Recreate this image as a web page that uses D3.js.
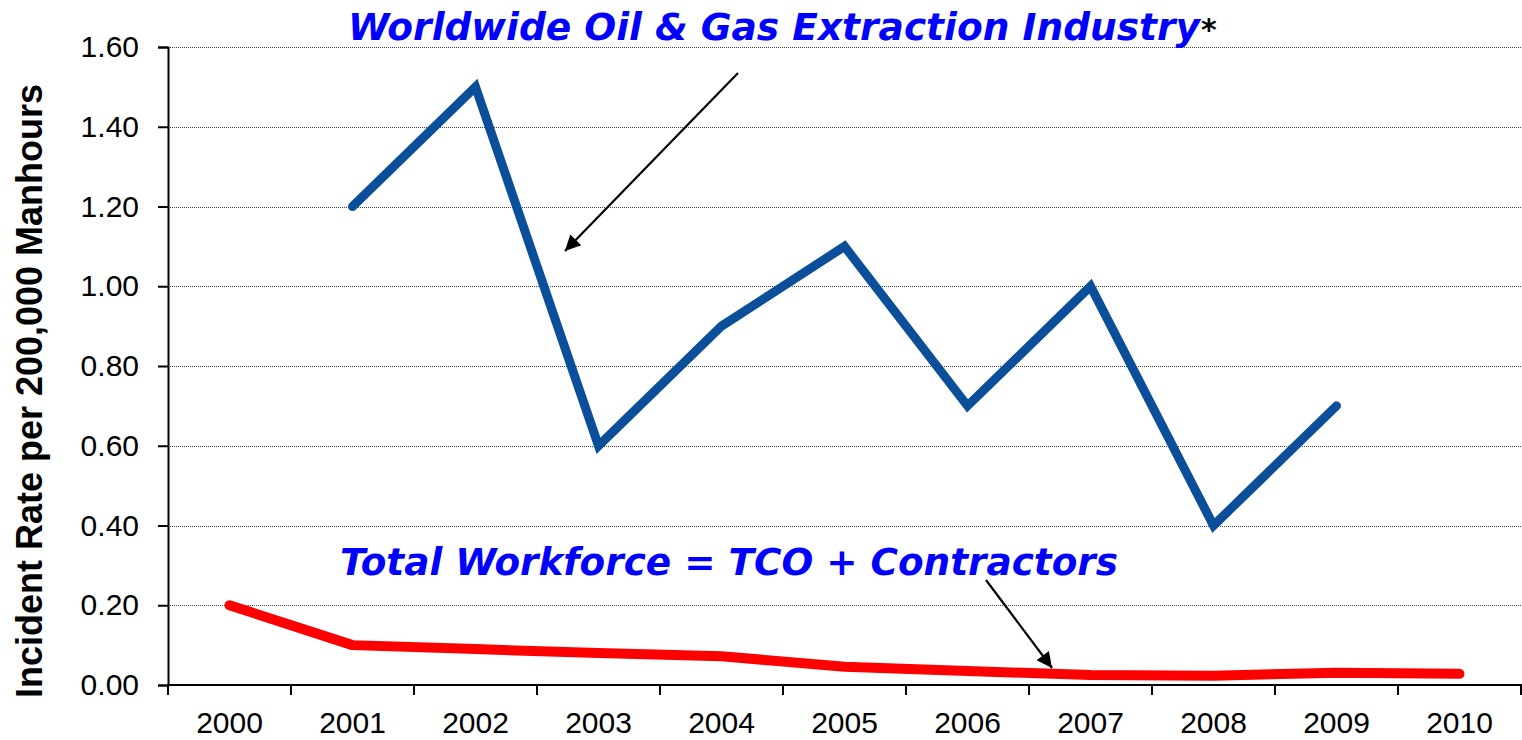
<!DOCTYPE html>
<html>
<head>
<meta charset="utf-8">
<script src="https://cdn.jsdelivr.net/npm/d3@7"></script>
<style>
  html, body { margin: 0; padding: 0; background: #fff; }
  svg { display: block; }
</style>
</head>
<body>
<svg id="chart" width="1522" height="740"></svg>
<script>
// ---- data ----
const years = ["2000","2001","2002","2003","2004","2005","2006","2007","2008","2009","2010"];
const worldwideYears = ["2001","2002","2003","2004","2005","2006","2007","2008","2009"];
const worldwideValues = [1.20, 1.50, 0.60, 0.90, 1.10, 0.70, 1.00, 0.40, 0.70];
const workforceValues = [0.20, 0.10, 0.09, 0.08, 0.072, 0.046, 0.035, 0.025, 0.023, 0.031, 0.028];
const yTickValues = [0, 0.2, 0.4, 0.6, 0.8, 1.0, 1.2, 1.4, 1.6];
const titleTop = "Worldwide Oil & Gas Extraction Industry";
const titleBottom = "Total Workforce = TCO + Contractors";
const yAxisTitle = "Incident Rate per 200,000 Manhours";

// ---- layout ----
const svg = d3.select("#chart");
const plotLeft = 168, plotRight = 1521, plotTop = 47, plotBottom = 685;

const x = d3.scaleBand().domain(years).range([plotLeft, plotRight]).padding(0);
const y = d3.scaleLinear().domain([0, 1.6]).range([plotBottom, plotTop]);
const cx = d => x(d) + x.bandwidth() / 2;

// gridlines
svg.append("g")
  .selectAll("line")
  .data(yTickValues.filter(v => v > 0))
  .join("line")
  .attr("x1", plotLeft).attr("x2", plotRight)
  .attr("y1", d => Math.round(y(d)) + 0.5).attr("y2", d => Math.round(y(d)) + 0.5)
  .attr("stroke", "#444")
  .attr("stroke-width", 1)
  .attr("stroke-dasharray", "1,1");

// y axis
const yAxis = svg.append("g")
  .attr("transform", `translate(${plotLeft},0)`)
  .call(d3.axisLeft(y).tickValues(yTickValues).tickFormat(d3.format(".2f")).tickSize(10).tickPadding(19));
yAxis.select(".domain").attr("stroke", "#000").attr("stroke-width", 2);
yAxis.selectAll(".tick line").attr("stroke", "#000").attr("stroke-width", 2);
yAxis.selectAll("text")
  .attr("font-family", "Liberation Sans, Arial, sans-serif")
  .attr("font-size", 30).attr("fill", "#000");

// x axis: labels centered in bands, ticks on band edges
const xAxis = svg.append("g")
  .attr("transform", `translate(0,${plotBottom})`)
  .call(d3.axisBottom(x).tickSize(0).tickPadding(27));
xAxis.select(".domain").attr("stroke", "#000").attr("stroke-width", 2).attr("d", `M${plotLeft},0H${plotRight + 1}`);
xAxis.selectAll("text")
  .attr("font-family", "Liberation Sans, Arial, sans-serif")
  .attr("font-size", 30).attr("fill", "#000");
const edges = years.map(d => x(d)).concat([plotRight]);
xAxis.selectAll(".edge")
  .data(edges)
  .join("line")
  .attr("class", "edge")
  .attr("x1", d => d).attr("x2", d => d)
  .attr("y1", 0).attr("y2", 10)
  .attr("stroke", "#000").attr("stroke-width", 2);

// lines
svg.append("path")
  .datum(years.map((yr, i) => ({ year: yr, value: workforceValues[i] })))
  .attr("d", d3.line().x(d => cx(d.year)).y(d => y(d.value)))
  .attr("fill", "none")
  .attr("stroke", "#FF0000")
  .attr("stroke-width", 10)
  .attr("stroke-linecap", "round")
  .attr("stroke-linejoin", "round");

svg.append("path")
  .datum(worldwideYears.map((yr, i) => ({ year: yr, value: worldwideValues[i] })))
  .attr("d", d3.line().x(d => cx(d.year)).y(d => y(d.value)))
  .attr("fill", "none")
  .attr("stroke", "#0B4F9B")
  .attr("stroke-width", 9)
  .attr("stroke-linecap", "round")
  .attr("stroke-linejoin", "miter");

// y axis title
svg.append("text")
  .attr("transform", "translate(42,391) rotate(-90)")
  .attr("text-anchor", "middle")
  .attr("font-family", "Liberation Sans, Arial, sans-serif")
  .attr("font-weight", "bold")
  .attr("font-size", 36)
  .attr("fill", "#000")
  .text(yAxisTitle);

// annotations
const annFont = "DejaVu Sans, Verdana, sans-serif";
svg.append("text")
  .attr("x", 348).attr("y", 40)
  .attr("font-family", annFont)
  .attr("font-weight", "bold")
  .attr("font-style", "italic")
  .attr("font-size", 37)
  .attr("fill", "#0000FF")
  .attr("textLength", 852)
  .attr("lengthAdjust", "spacingAndGlyphs")
  .text(titleTop);
svg.append("text")
  .attr("x", 1201).attr("y", 40)
  .attr("font-family", annFont)
  .attr("font-weight", "bold")
  .attr("font-size", 30)
  .attr("fill", "#000")
  .text("*");

svg.append("text")
  .attr("x", 340).attr("y", 575)
  .attr("font-family", annFont)
  .attr("font-weight", "bold")
  .attr("font-style", "italic")
  .attr("font-size", 37)
  .attr("fill", "#0000FF")
  .attr("textLength", 778)
  .attr("lengthAdjust", "spacingAndGlyphs")
  .text(titleBottom);

// arrows
const defs = svg.append("defs");
defs.append("marker")
  .attr("id", "arrow")
  .attr("viewBox", "0 0 10 10")
  .attr("refX", 10).attr("refY", 5)
  .attr("markerWidth", 8).attr("markerHeight", 7)
  .attr("markerUnits", "strokeWidth")
  .attr("orient", "auto")
  .append("path")
  .attr("d", "M0,0L10,5L0,10Z")
  .attr("fill", "#000");

svg.append("line")
  .attr("x1", 738).attr("y1", 73).attr("x2", 565).attr("y2", 251)
  .attr("stroke", "#000").attr("stroke-width", 2.2)
  .attr("marker-end", "url(#arrow)");
svg.append("line")
  .attr("x1", 986).attr("y1", 580).attr("x2", 1052).attr("y2", 668)
  .attr("stroke", "#000").attr("stroke-width", 2.2)
  .attr("marker-end", "url(#arrow)");
</script>
</body>
</html>
